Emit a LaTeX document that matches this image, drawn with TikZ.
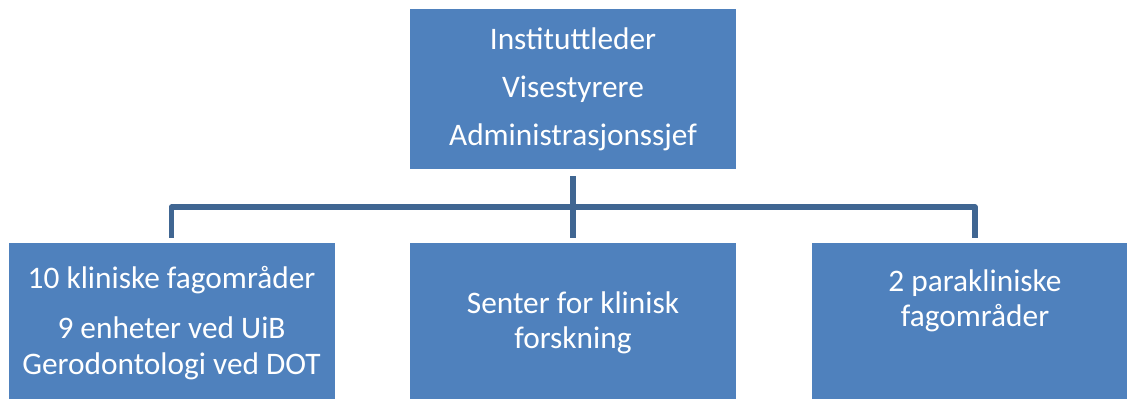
\documentclass[tikz,border=0pt]{standalone}
\usepackage{fontspec}
\setmainfont{Carlito}
\definecolor{boxblue}{RGB}{79,129,189}
\definecolor{linkblue}{RGB}{64,102,146}

\begin{document}
\begin{tikzpicture}[x=0.75pt,y=-0.75pt,
    unit/.style={fill=boxblue, text=white, minimum width=244.5pt,
      minimum height=120pt, inner sep=0pt, align=center,
      font=\fontsize{23.5}{26.5}\selectfont},
    unittext/.style={text=white, align=center, inner sep=0pt,
      font=\fontsize{23.5}{26.5}\selectfont},
    link/.style={draw=linkblue, line width=4.1pt, line join=round}]
  \useasboundingbox (0,0) rectangle (1127,399);
  \clip (0,0) rectangle (1127,399);
  % boxes
  \node[unit] (leder) at (573,89) {Instituttleder\\[9.5pt]Visestyrere\\[9.5pt]Administrasjonssjef};
  \node[unit] (klin) at (171.5,323) {10 kliniske fagområder\\[11pt]9 enheter ved UiB\\Gerodontologi ved DOT};
  \node[unit] (senter) at (573,323) {Senter for klinisk\\forskning};
  \node[unit] (para) at (975,323) {};
  \node[unittext] (paratext) at (975,301) {2 parakliniske\\fagområder};
  % connectors
  \coordinate (bus) at (573,207);
  \draw[link, shorten <=5.2pt, shorten >=3.7pt] (leder) -- (senter);
  \draw[link, shorten <=3.7pt, shorten >=3.7pt] (klin.north) |- (bus) -| (para.north);
\end{tikzpicture}
\end{document}
